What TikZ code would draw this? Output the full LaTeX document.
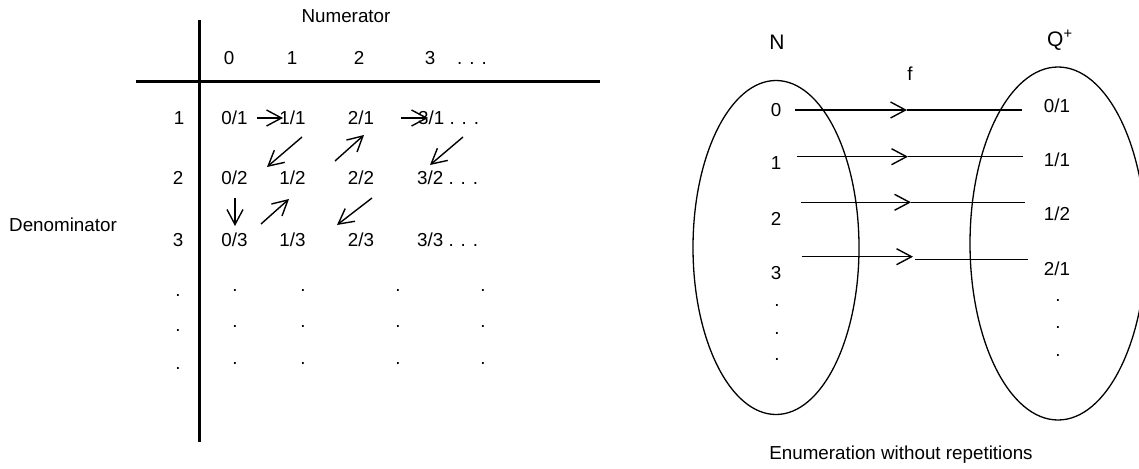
\documentclass[tikz,border=0pt]{standalone}
\usepackage{fontspec}
\setmainfont{Liberation Sans}
\usetikzlibrary{arrows.meta,shapes.geometric}
\begin{document}
\begin{tikzpicture}[x=1pt,y=-1pt,
  lbl/.style={inner sep=0pt, font=\fontsize{18.8}{22}\selectfont},
  big/.style={inner sep=0pt, font=\fontsize{21}{25}\selectfont},
  axisline/.style={line width=3pt},
  arr/.style={line width=1.4pt, -{Straight Barb[length=15pt,width=16pt,line width=1.4pt]}},
  plain/.style={line width=1.4pt},
  setshape/.style={draw, ellipse, line width=1.3pt, inner sep=0pt}
]
\useasboundingbox (0,0) rectangle (1139,468);

% ---------- table ----------
\coordinate (vtop) at (199,20);
\coordinate (vbot) at (199,442);
\coordinate (hleft) at (136,82);
\coordinate (hright) at (600,82);
\draw[axisline] (vtop) -- (vbot);
\draw[axisline] (hleft) -- (hright);

\node[lbl] (numlbl) at (346,16) {Numerator};
\node[lbl] (denlbl) at (63,225) {Denominator};

\node[lbl] (c0) at (229,58) {0};
\node[lbl] (c1) at (292,58) {1};
\node[lbl] (c2) at (359,58) {2};
\node[lbl] (c3) at (430,58) {3};
\node[lbl, anchor=base west] (cdots) at (457,64.7) {. . .};

\node[lbl] (r1) at (179,118) {1};
\node[lbl] (r2) at (178,178) {2};
\node[lbl] (r3) at (178,240) {3};
\node[lbl] (rd1) at (178,295) {.};
\node[lbl] (rd2) at (178,330) {.};
\node[lbl] (rd3) at (178,368) {.};

\node[lbl] (e01) at (234.5,118) {0/1};
\node[lbl] (e11) at (292.5,118) {1/1};
\node[lbl] (e21) at (361,118) {2/1};
\node[lbl, anchor=west] (e31) at (418,118) {3/1 . . .};
\node[lbl] (e02) at (234.5,178) {0/2};
\node[lbl] (e12) at (292.5,178) {1/2};
\node[lbl] (e22) at (361,178) {2/2};
\node[lbl, anchor=west] (e32) at (417,178) {3/2 . . .};
\node[lbl] (e03) at (234.5,240) {0/3};
\node[lbl] (e13) at (292.5,240) {1/3};
\node[lbl] (e23) at (361,240) {2/3};
\node[lbl, anchor=west] (e33) at (417,240) {3/3 . . .};

\foreach \cx/\cn in {235/a,303/b,398/c,483/d}{
  \foreach \ry/\rn in {290/1,326/2,363/3}{
    \node[lbl] (g\cn\rn) at (\cx,\ry) {.};
  }
}

\coordinate (a1s) at (257,118); \coordinate (a1e) at (283,118);
\coordinate (a2s) at (302,137); \coordinate (a2e) at (267,167);
\coordinate (a3s) at (235,198); \coordinate (a3e) at (235,226);
\coordinate (a4s) at (261,224); \coordinate (a4e) at (289,199);
\coordinate (a5s) at (335,161); \coordinate (a5e) at (364,135);
\coordinate (a6s) at (372,198); \coordinate (a6e) at (337,225);
\coordinate (a7s) at (401,118); \coordinate (a7e) at (428,118);
\coordinate (a8s) at (463,137); \coordinate (a8e) at (430,165);
\foreach \i in {1,...,8}{ \draw[arr] (a\i s) -- (a\i e); }

% ---------- mapping ----------
\node[big] (Nlbl) at (777,42) {N};
\node[big, anchor=west] (Qlbl) at (1047,40) {Q\textsuperscript{+}};
\node[lbl] (flbl) at (910,74) {f};

\node[setshape, minimum width=166pt, minimum height=334pt] (setN) at (776,247.5) {};
\node[setshape, minimum width=176pt, minimum height=353pt] (setQ) at (1058,243.5) {};

\node[lbl] (n0) at (776,110) {0};
\node[lbl] (n1) at (776,163.5) {1};
\node[lbl] (n2) at (776,218.5) {2};
\node[lbl] (n3) at (776,273) {3};
\node[lbl] (nd1) at (777,305) {.};
\node[lbl] (nd2) at (777,333) {.};
\node[lbl] (nd3) at (777,359) {.};

\node[lbl] (q0) at (1057,105.5) {0/1};
\node[lbl] (q1) at (1057,160) {1/1};
\node[lbl] (q2) at (1057,214) {1/2};
\node[lbl] (q3) at (1057,269) {2/1};
\node[lbl] (qd1) at (1058,300) {.};
\node[lbl] (qd2) at (1058,327) {.};
\node[lbl] (qd3) at (1058,355) {.};

\coordinate (m0s) at (795,110);   \coordinate (m0m) at (907,110);   \coordinate (m0e) at (1022,110);
\coordinate (m1s) at (797,156.7); \coordinate (m1m) at (908,156.7); \coordinate (m1e) at (1023,156.7);
\coordinate (m2s) at (801,202.3); \coordinate (m2m) at (911,202.3); \coordinate (m2e) at (1025,202.3);
\coordinate (m3s) at (802,256.7); \coordinate (m3m) at (913,256.7);
\coordinate (m3n) at (915,259.3); \coordinate (m3e) at (1028,259.3);
\foreach \i in {0,1,2}{
  \draw[arr] (m\i s) -- (m\i m);
  \draw[plain] (m\i m) -- (m\i e);
}
\draw[arr] (m3s) -- (m3m);
\draw[plain] (m3n) -- (m3e);

\node[lbl] (cap) at (901,455) {Enumeration without repetitions};
\end{tikzpicture}
\end{document}
